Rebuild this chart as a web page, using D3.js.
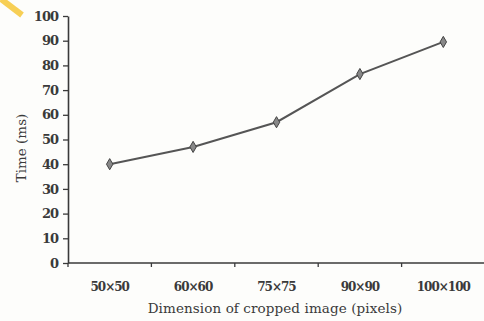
<!DOCTYPE html>
<html>
<head>
<meta charset="utf-8">
<script src="https://cdn.jsdelivr.net/npm/d3@7"></script>
<style>
body { margin: 0; background: #fdfdfb; }
svg { display: block; }
</style>
</head>
<body>
<div id="chart"></div>
<script>
// data
var categories = ["50×50", "60×60", "75×75", "90×90", "100×100"];
var times = [40, 47, 57, 76.5, 89.5];
var yTicks = [0, 10, 20, 30, 40, 50, 60, 70, 80, 90, 100];

var W = 484, H = 321;
var margin = {top: 16, right: 0, bottom: 58, left: 68};
var INK = "#3a3a3a";
var FONT = "DejaVu Serif";

var svg = d3.select("#chart")
	.append("svg")
	.attr("width", W)
	.attr("height", H);

// yellow highlighter mark in the corner
svg.append("line")
	.attr("x1", 1).attr("y1", -1)
	.attr("x2", 22).attr("y2", 15)
	.attr("stroke", "#f7cf55")
	.attr("stroke-width", 6);

var g = svg.append("g")
	.attr("transform", "translate(" + margin.left + "," + margin.top + ")");

var width = 417,
	height = H - margin.top - margin.bottom; // 247

var x = d3.scaleBand()
	.domain(categories)
	.range([0, width])
	.padding(0);

var y = d3.scaleLinear()
	.domain([0, 100])
	.range([height, 0]);

// Y axis
var yAxis = g.append("g")
	.call(d3.axisLeft(y)
		.tickValues(yTicks)
		.tickSize(5)
		.tickPadding(5)
		.tickSizeOuter(0));
yAxis.select(".domain").attr("stroke", INK).attr("stroke-width", 1.6);
yAxis.selectAll(".tick line").attr("stroke", INK).attr("stroke-width", 1.3);
yAxis.selectAll("text")
	.attr("font-family", FONT)
	.attr("font-size", "13px")
	.attr("font-weight", "bold")
	.attr("fill", INK)
	.attr("letter-spacing", "-1px");

// X axis: line + ticks at the band edges
var xAxis = g.append("g")
	.attr("transform", "translate(0," + height + ")");
xAxis.append("line")
	.attr("x1", 0).attr("x2", width)
	.attr("stroke", INK).attr("stroke-width", 1.6);
xAxis.selectAll(".edge")
	.data(categories)
	.enter()
	.append("line")
	.attr("x1", d => x(d))
	.attr("x2", d => x(d))
	.attr("y1", 0).attr("y2", 4)
	.attr("stroke", INK).attr("stroke-width", 1.3);
xAxis.selectAll(".lbl")
	.data(categories)
	.enter()
	.append("text")
	.attr("x", d => x(d) + x.bandwidth() / 2)
	.attr("y", 28)
	.attr("text-anchor", "middle")
	.attr("font-family", FONT)
	.attr("font-size", "12px")
	.attr("font-weight", "bold")
	.attr("fill", INK)
	.attr("letter-spacing", "-1px")
	.text(d => d);

// axis titles
svg.append("text")
	.attr("x", margin.left + 207)
	.attr("y", 313)
	.attr("text-anchor", "middle")
	.attr("font-family", FONT)
	.attr("font-size", "13.5px")
	.attr("fill", INK)
	.attr("letter-spacing", "0.1px")
	.text("Dimension of cropped image (pixels)");

svg.append("text")
	.attr("transform", "translate(26,148)rotate(-90)")
	.attr("text-anchor", "middle")
	.attr("font-family", FONT)
	.attr("font-size", "13.5px")
	.attr("fill", INK)
	.text("Time (ms)");

// line
var line = d3.line()
	.x((d, i) => x(categories[i]) + x.bandwidth() / 2)
	.y(d => y(d));

g.append("path")
	.datum(times)
	.attr("fill", "none")
	.attr("stroke", "#555")
	.attr("stroke-width", 2)
	.attr("d", line);

// diamond markers
g.selectAll(".pt")
	.data(times)
	.enter()
	.append("path")
	.attr("d", d3.symbol(d3.symbolDiamond, 36))
	.attr("transform", (d, i) => "translate(" + (x(categories[i]) + x.bandwidth() / 2) + "," + y(d) + ")")
	.attr("fill", "#888")
	.attr("stroke", "#444")
	.attr("stroke-width", 1);
</script>
</body>
</html>
